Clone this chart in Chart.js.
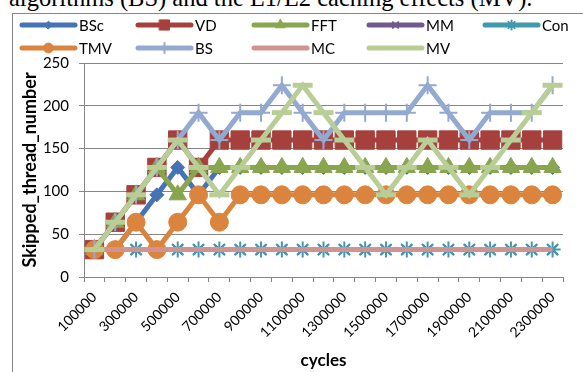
<!DOCTYPE html>
<html>
<head>
<meta charset="utf-8">
<script src="https://cdn.jsdelivr.net/npm/chart.js@4/dist/chart.umd.min.js"></script>
<style>
  html, body { margin: 0; padding: 0; background: #fff; overflow: hidden; }
  #wrap { position: relative; width: 583px; height: 372px; overflow: hidden; }
  #caption {
    position: absolute; left: 9px; top: -14px; white-space: nowrap;
    font-family: "Liberation Serif", "Times New Roman", serif; font-size: 24.5px; line-height: 24px; color: #000;
  }
  #box {
    position: absolute; left: 12px; top: 13px; width: 640px; height: 420px;
    border: 1px solid #868686;
  }
  #chart { position: absolute; left: 0; top: 0; }
</style>
</head>
<body>
<div id="wrap">
  <div id="caption">algorithms (BS) and the L1/L2 caching effects (MV).</div>
  <div id="box"></div>
  <canvas id="chart" width="583" height="372"></canvas>
</div>
<script>
// Categories (cycles)
const cycles = ['100000', '200000', '300000', '400000', '500000', '600000', '700000', '800000',
  '900000', '1000000', '1100000', '1200000', '1300000', '1400000', '1500000', '1600000',
  '1700000', '1800000', '1900000', '2000000', '2100000', '2200000', '2300000'];

// Series values (Skipped_thread_number)
const bscData = [32, 32, 64, 96, 128, 96, 128, 128, 128, 128, 128, 128, 128, 128, 128, 128, 128, 128, 128, 128, 128, 128, 128];
const vdData  = [32, 64, 96, 128, 160, 128, 160, 160, 160, 160, 160, 160, 160, 160, 160, 160, 160, 160, 160, 160, 160, 160, 160];
const fftData = [32, 64, 96, 128, 96, 128, 128, 128, 128, 128, 128, 128, 128, 128, 128, 128, 128, 128, 128, 128, 128, 128, 128];
const mmData  = [32, 32, 32, 32, 32, 32, 32, 32, 32, 32, 32, 32, 32, 32, 32, 32, 32, 32, 32, 32, 32, 32, 32];
const conData = [32, 32, 32, 32, 32, 32, 32, 32, 32, 32, 32, 32, 32, 32, 32, 32, 32, 32, 32, 32, 32, 32, 32];
const tmvData = [32, 32, 64, 32, 64, 96, 64, 96, 96, 96, 96, 96, 96, 96, 96, 96, 96, 96, 96, 96, 96, 96, 96];
const bsData  = [32, 64, 96, 128, 160, 192, 160, 192, 192, 224, 192, 160, 192, 192, 192, 192, 224, 192, 160, 192, 192, 192, 224];
const mcData  = [32, 32, 32, 32, 32, 32, 32, 32, 32, 32, 32, 32, 32, 32, 32, 32, 32, 32, 32, 32, 32, 32, 32];
const mvData  = [32, 64, 96, 128, 160, 128, 96, 128, 160, 192, 224, 192, 160, 128, 96, 128, 160, 128, 96, 128, 160, 192, 224];

// Y axis tick labels
const yTicks = [0, 50, 100, 150, 200, 250];

const FONT = 'Lato, "Liberation Sans", sans-serif';
const GRID = '#868686';

// series styles: name, data, colour, marker, marker radius, marker line width
const series = [
  ['BSc', bscData, '#4573b5', 'rectRot', 7, 1],
  ['VD',  vdData,  '#a5403d', 'rect', 13, 1],
  ['FFT', fftData, '#89a54e', 'triangle', 10, 1],
  ['MM',  mmData,  '#71588f', 'crossRot', 7, 2],
  ['Con', conData, '#4198af', 'star', 8, 2],
  ['TMV', tmvData, '#db843d', 'circle', 9, 1],
  ['BS',  bsData,  '#93a9cf', 'cross', 9, 2],
  ['MC',  mcData,  '#d19392', false, 0, 0],
  ['MV',  mvData,  '#b9cd96', 'line', 10, 5]
];

const datasets = series.map((s, i) => ({
  label: s[0],
  data: s[1],
  borderColor: s[2],
  backgroundColor: s[2],
  borderWidth: 5,
  pointStyle: s[3],
  pointRadius: s[4],
  pointHoverRadius: s[4],
  pointBackgroundColor: s[2],
  pointBorderColor: s[2],
  pointBorderWidth: s[5],
  tension: 0,
  // later series drawn on top, like the original
  order: series.length - i
}));

// Excel style legend: fixed grid, line with marker in the middle
const legendPlugin = {
  id: 'gridLegend',
  afterDraw(chart) {
    const ctx = chart.ctx;
    const colX = [22, 138, 254, 369, 485];
    const rowY = [25, 48];
    series.forEach((s, i) => {
      const x = colX[i % 5];
      const y = rowY[Math.floor(i / 5)];
      ctx.save();
      ctx.strokeStyle = s[2];
      ctx.lineWidth = 5;
      ctx.lineCap = 'round';
      ctx.beginPath();
      ctx.moveTo(x, y);
      ctx.lineTo(x + 53, y);
      ctx.stroke();
      if (s[3] && s[3] !== 'line') {
        ctx.fillStyle = s[2];
        ctx.strokeStyle = s[2];
        ctx.lineWidth = s[5];
        Chart.helpers.drawPoint(ctx, { pointStyle: s[3], radius: s[4] * 0.55, rotation: 0, borderWidth: s[5] }, x + 26.5, y);
      }
      ctx.fillStyle = '#000';
      ctx.font = '15px ' + FONT;
      ctx.textBaseline = 'middle';
      ctx.textAlign = 'left';
      ctx.fillText(s[0], x + 57, y + 1);
      ctx.restore();
    });
  }
};

new Chart(document.getElementById('chart'), {
  type: 'line',
  data: { labels: cycles, datasets: datasets },
  plugins: [legendPlugin],
  options: {
    responsive: false,
    animation: false,
    devicePixelRatio: 1,
    layout: { padding: { left: 12, top: 63, right: 20, bottom: 0 } },
    plugins: {
      legend: { display: false },
      tooltip: { enabled: false }
    },
    scales: {
      x: {
        offset: true,
        afterFit: (scale) => { scale.height = 95; },
        grid: { offset: true, drawOnChartArea: false, drawTicks: true, tickLength: 5, color: GRID },
        border: { color: GRID, width: 1 },
        ticks: {
          autoSkip: false,
          minRotation: 45,
          maxRotation: 45,
          padding: 7,
          color: '#000',
          font: { family: FONT, size: 14 },
          callback: (v, idx) => (idx % 2 === 0 ? cycles[idx] : '')
        },
        title: {
          display: true, text: 'cycles', color: '#000',
          font: { family: FONT, size: 17, weight: 'bold' },
          padding: { top: 0, bottom: 1 }
        }
      },
      y: {
        min: yTicks[0],
        max: yTicks[yTicks.length - 1],
        afterFit: (scale) => { scale.width = 72; },
        afterBuildTicks: (scale) => { scale.ticks = yTicks.map(v => ({ value: v })); },
        grid: { color: GRID, tickLength: 5 },
        border: { color: GRID, width: 1 },
        ticks: { color: '#000', padding: 10, font: { family: FONT, size: 15 } },
        title: {
          display: true, text: 'Skipped_thread_number', color: '#000',
          font: { family: FONT, size: 18, weight: 'bold' },
          padding: { top: 7, bottom: 0 }
        }
      }
    }
  }
});
</script>
</body>
</html>
